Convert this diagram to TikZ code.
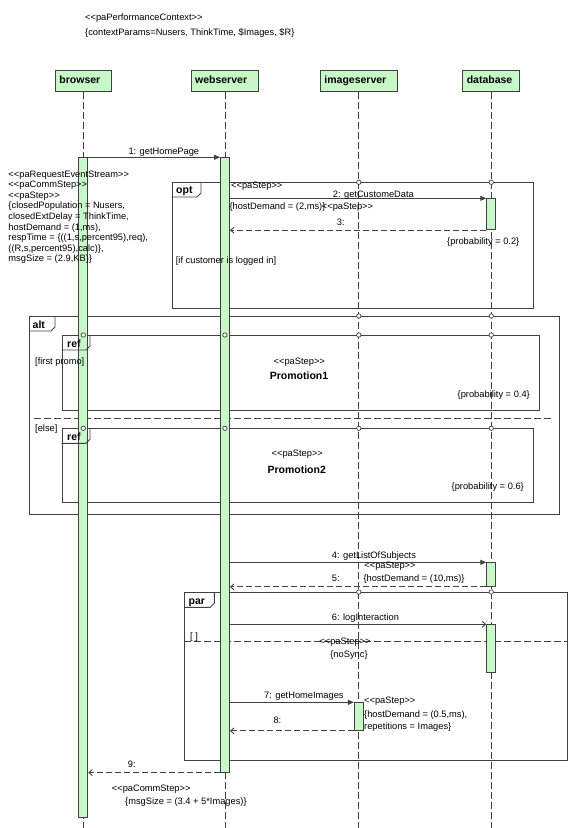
\documentclass[tikz,border=0pt]{standalone}
\usepackage{fontspec}
\setmainfont{Liberation Sans}
\usetikzlibrary{arrows.meta}
\definecolor{lgreen}{RGB}{200,248,200}
\definecolor{ln}{RGB}{64,64,64}
\newcommand{\sopen}{<\kern0pt<}
\newcommand{\sclose}{>\kern0pt>}
\newcommand{\fragtab}[3]{\draw[frameline] ([xshift=#2pt]#1.north west) -- ++(0,#3-4) -- ++(-4,4) -- ([yshift=-#3pt]#1.north west);}
\begin{document}
\begin{tikzpicture}[x=1pt,y=-1pt,
 frameline/.style={draw=ln, line width=0.9pt},
 t/.style={font=\fontsize{9.3}{10.6}\selectfont, text height=6.6pt, text depth=0pt, inner sep=0pt, anchor=west},
 tc/.style={t, anchor=center},
 tr/.style={t, anchor=east},
 tb/.style={font=\fontsize{10.5}{12}\selectfont\bfseries, text height=7.5pt, text depth=0pt, inner sep=0pt, anchor=west},
 tbc/.style={tb, anchor=center},
 head/.style={draw=ln, fill=lgreen, line width=0.9pt, font=\fontsize{10.5}{12}\selectfont\bfseries, text height=7.5pt, text depth=2pt, inner xsep=4pt, inner ysep=0pt, align=left, anchor=north west, minimum height=20.7pt},
 frame/.style={draw=ln, line width=0.9pt, inner sep=0pt, anchor=north west},
 bar/.style={draw=ln, fill=lgreen, line width=0.9pt, inner sep=0pt, minimum width=9pt, anchor=north},
 life/.style={draw=ln, line width=0.8pt, dash pattern=on 7pt off 3pt},
 sync/.style={draw=ln, line width=0.9pt, -{Triangle[length=6pt,width=5pt]}},
 async/.style={draw=ln, line width=0.9pt, -{Straight Barb[length=3.5pt,width=6pt]}},
 reply/.style={draw=ln, line width=0.9pt, dash pattern=on 6pt off 3pt, -{Straight Barb[length=3.5pt,width=6pt]}},
 divider/.style={draw=ln, line width=0.9pt, dash pattern=on 7pt off 3pt},
 gate/.style={draw=ln, fill=white, line width=0.7pt, circle, inner sep=0pt, minimum size=4.4pt},
]
\useasboundingbox (0,0) rectangle (576,828);

% context annotation
\node[t] (pc1) at (85,16.7) {\sopen paPerformanceContext\sclose};
\node[t] (pc2) at (85,31.7) {\{contextParams=Nusers, ThinkTime, \$Images, \$R\}};

% lifeline heads
\node[head, text width=47.7pt] (browser) at (55,70.3) {browser};
\node[head, text width=59.6pt] (webserver) at (190.7,70.3) {webserver};
\node[head, text width=68.7pt] (imageserver) at (320,70.3) {imageserver};
\node[head, text width=49pt] (database) at (462.3,70.3) {database};

% combined fragments
\node[frame, minimum width=361.6pt, minimum height=126pt] (opt) at (171.7,182.3) {};
\node[frame, minimum width=530pt, minimum height=198pt] (alt) at (29.3,316) {};
\node[frame, minimum width=477.6pt, minimum height=75pt] (ref1) at (61.7,335) {};
\node[frame, minimum width=471.6pt, minimum height=73.7pt] (ref2) at (61.7,428.3) {};
\node[frame, minimum width=382.4pt, minimum height=168pt] (par) at (184.3,592) {};
\coordinate (altdl) at (34.3,418);
\coordinate (altdr) at (554,418);
\draw[divider] (altdl) -- (altdr);
\draw[divider] (par.west |- 0,641.3) -- (par.east |- 0,641.3);

% lifelines
\draw[life] (browser.south) -- (browser.south |- 0,828);
\draw[life] (webserver.south) -- (webserver.south |- 0,828);
\draw[life] (imageserver.south) -- (imageserver.south |- 0,828);
\draw[life] (database.south) -- (database.south |- 0,828);

% activation bars
\node[bar, minimum height=659.4pt] (bB) at (browser.south |- 0,157.3) {};
\node[bar, minimum height=614.4pt] (bW) at (webserver.south |- 0,157.3) {};
\node[bar, minimum height=31pt] (bD1) at (database.south |- 0,198.3) {};
\node[bar, minimum height=23.7pt] (bD2) at (database.south |- 0,562.3) {};
\node[bar, minimum height=47.4pt] (bD3) at (database.south |- 0,624.3) {};
\node[bar, minimum height=27.7pt] (bI) at (imageserver.south |- 0,702.3) {};

% gates
\node[gate] (g1) at (imageserver.south |- opt.north) {};
\node[gate] (g2) at (database.south |- opt.north) {};
\node[gate] (g3) at (imageserver.south |- alt.north) {};
\node[gate] (g4) at (database.south |- alt.north) {};
\node[gate] (g5) at (browser.south |- ref1.north) {};
\node[gate] (g6) at (webserver.south |- ref1.north) {};
\node[gate] (g7) at (imageserver.south |- ref1.north) {};
\node[gate] (g8) at (database.south |- ref1.north) {};
\node[gate] (g9) at (browser.south |- ref2.north) {};
\node[gate] (g10) at (webserver.south |- ref2.north) {};
\node[gate] (g11) at (imageserver.south |- ref2.north) {};
\node[gate] (g12) at (database.south |- ref2.north) {};
\node[gate] (g13) at (imageserver.south |- par.north) {};
\node[gate] (g14) at (database.south |- par.north) {};

% messages
\draw[sync] (bB.north east) -- (bW.north west);
\draw[sync] (bW.east |- bD1.north) -- (bD1.north west);
\draw[reply] (bD1.south west) -- (bW.east |- bD1.south);
\draw[sync] (bW.east |- bD2.north) -- (bD2.north west);
\draw[reply] (bD2.south west) -- (bW.east |- bD2.south);
\draw[async] (bW.east |- bD3.north) -- (bD3.north west);
\draw[sync] (bW.east |- bI.north) -- (bI.north west);
\draw[reply] (bI.south west) -- (bW.east |- bI.south);
\draw[reply] (bW.south west) -- (bB.east |- bW.south);

% message labels
\node[t] (l1) at (128.3,150.7) {1: getHomePage};
\node[t] (l2) at (332.7,194) {2: getCustomeData};
\node[t] (l3) at (336.7,221.7) {3:};
\node[t] (l4) at (331.7,555) {4: getListOfSubjects};
\node[t] (l5) at (331.7,578.3) {5:};
\node[t] (l6) at (331.7,617.3) {6: logInteraction};
\node[t] (l7) at (264,695) {7: getHomeImages};
\node[t] (l8) at (273.3,720) {8:};
\node[t] (l9) at (127.7,764.3) {9:};

% browser annotation
\node[t] (n1) at (8.3,174) {\sopen paRequestEventStream\sclose};
\node[t] (n2) at (8.3,184.3) {\sopen paCommStep\sclose};
\node[t] (n3) at (8.3,195) {\sopen paStep\sclose};
\node[t] (n4) at (8.3,205.3) {\{closedPopulation = Nusers,};
\node[t] (n5) at (8.3,216) {closedExtDelay = ThinkTime,};
\node[t] (n6) at (8.3,226.7) {hostDemand = (1,ms),};
\node[t] (n7) at (8.3,237.3) {respTime = \{((1,s,percent95),req),};
\node[t] (n8) at (8.3,247.7) {((R,s,percent95),calc)\},};
\node[t] (n9) at (8.3,258.3) {msgSize = (2.9,KB)\}};

% opt contents
\node[t] (o1) at (231,185) {\sopen paStep\sclose};
\node[t] (o2) at (229.3,206) {\{hostDemand = (2,ms)\}};
\node[t] (o3) at (321.7,206) {\sopen paStep\sclose};
\node[t] (o4) at (447,241) {\{probability = 0.2\}};
\node[t] (o5) at (175.7,260) {[if customer is logged in]};

% alt contents
\node[t] (a1) at (35,361) {[first promo]};
\node[tc] (a2) at (299.3,360.7) {\sopen paStep\sclose};
\node[tbc] (a3) at (299,376) {Promotion1};
\node[tr] (a4) at (530,394.3) {\{probability = 0.4\}};
\node[t] (a5) at (35,427.7) {[else]};
\node[tc] (a6) at (297.3,452.7) {\sopen paStep\sclose};
\node[tbc] (a7) at (296.7,469.3) {Promotion2};
\node[tr] (a8) at (524,486) {\{probability = 0.6\}};

% messages 4/5 annotation
\node[tc] (s1) at (390,565) {\sopen paStep\sclose};
\node[t] (s2) at (363.3,578.3) {\{hostDemand = (10,ms)\}};

% par contents
\node[t] (p1) at (190,636) {[ ]};
\node[tc] (p2) at (345,641) {\sopen paStep\sclose};
\node[tc] (p3) at (349,654) {\{noSync\}};

% imageserver annotation
\node[t] (i1) at (364,700) {\sopen paStep\sclose};
\node[t] (i2) at (364,714.3) {\{hostDemand = (0.5,ms),};
\node[t] (i3) at (364,726) {repetitions = Images\}};

% reply annotation
\node[t] (c1) at (111.7,788.3) {\sopen paCommStep\sclose};
\node[t] (c2) at (125,801) {\{msgSize = (3.4 + 5*Images)\}};

% fragment tabs
\fragtab{opt}{29.3}{14.7}
\fragtab{alt}{25.7}{15}
\fragtab{ref1}{28.3}{15}
\fragtab{ref2}{28.3}{15}
\fragtab{par}{30}{15.3}
\node[tb] (topt) at (176,190) {opt};
\node[tb] (talt) at (32.5,324.3) {alt};
\node[tb] (tref1) at (67,343.3) {ref};
\node[tb] (tref2) at (67,436.6) {ref};
\node[tb] (tpar) at (188.5,600.3) {par};
\end{tikzpicture}
\end{document}
